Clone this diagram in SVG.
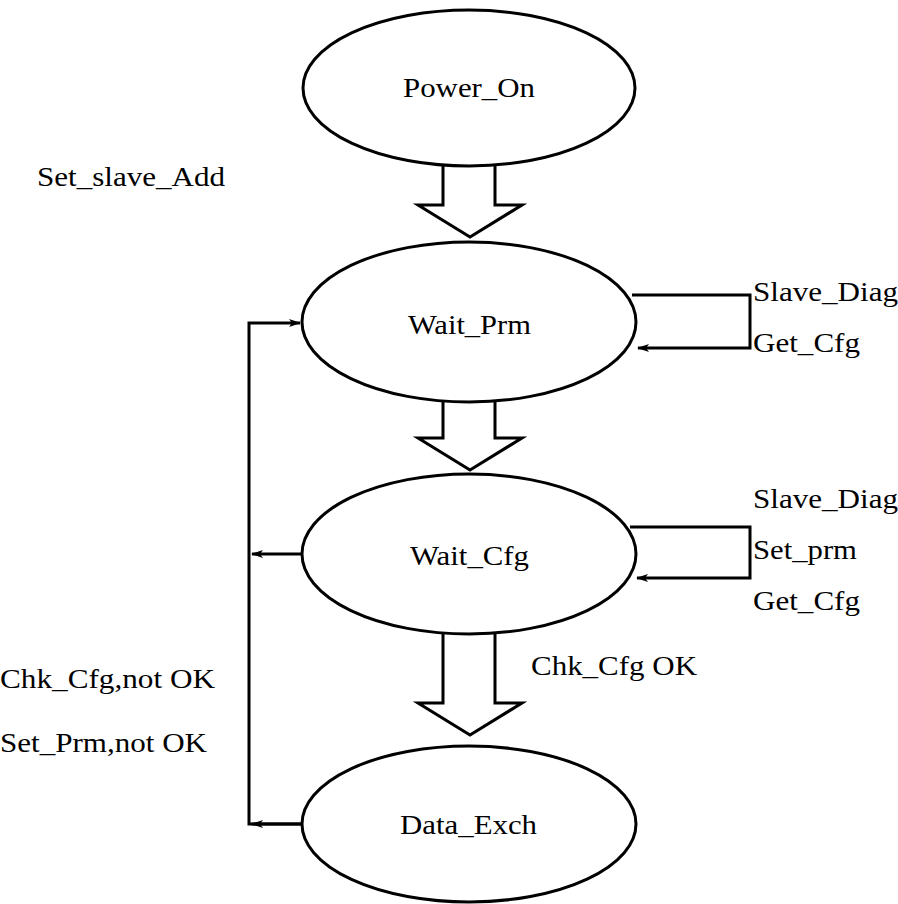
<svg xmlns="http://www.w3.org/2000/svg" width="898" height="904" viewBox="0 0 898 904">
<style>
.n{fill:#fff;stroke:#000;stroke-width:3}
.l{fill:none;stroke:#000;stroke-width:3}
.b{fill:#fff;stroke:#000;stroke-width:3;stroke-linejoin:miter}
text{font-family:"Liberation Serif","Times New Roman",serif;font-size:28px;fill:#000}
</style>
<defs>
<marker id="a" markerWidth="12" markerHeight="8" refX="11" refY="4" orient="auto" markerUnits="userSpaceOnUse">
<path d="M0,0 L12,4 L0,8 L3,4 Z" fill="#000"/>
</marker>
</defs>
<rect width="898" height="904" fill="#fff"/>
<g id="connectors">
<path class="b" d="M443,163 V205 H418 L470,237 L522,205 H495 V163"/>
<path class="b" d="M443,402 V438 H418 L470,470 L522,438 H495 V402"/>
<path class="b" d="M443,634 V703 H418 L470,735 L522,703 H495 V634"/>
<path class="l" d="M632,295 H750 V348 H638" marker-end="url(#a)"/>
<path class="l" d="M630,527 H750 V578 H637" marker-end="url(#a)"/>
<path class="l" d="M302,824 H249 V323 H300" marker-end="url(#a)"/>
<path class="l" d="M302,824 H252" marker-end="url(#a)"/>
<path class="l" d="M302,554 H252" marker-end="url(#a)"/>
<text x="37" y="186" textLength="188" lengthAdjust="spacingAndGlyphs">Set_slave_Add</text>
<text x="753" y="301" textLength="145" lengthAdjust="spacingAndGlyphs">Slave_Diag</text>
<text x="753" y="352" textLength="107" lengthAdjust="spacingAndGlyphs">Get_Cfg</text>
<text x="753" y="508" textLength="145" lengthAdjust="spacingAndGlyphs">Slave_Diag</text>
<text x="753" y="559" textLength="104" lengthAdjust="spacingAndGlyphs">Set_prm</text>
<text x="753" y="610" textLength="107" lengthAdjust="spacingAndGlyphs">Get_Cfg</text>
<text x="531" y="675" textLength="166" lengthAdjust="spacingAndGlyphs">Chk_Cfg OK</text>
<text x="0" y="688" textLength="215" lengthAdjust="spacingAndGlyphs">Chk_Cfg,not OK</text>
<text x="0" y="752" textLength="207" lengthAdjust="spacingAndGlyphs">Set_Prm,not OK</text>
</g>
<g id="power_on"><ellipse class="n" cx="469" cy="88" rx="166" ry="78"/><text x="403" y="97" textLength="132" lengthAdjust="spacingAndGlyphs">Power_On</text></g>
<g id="wait_prm"><ellipse class="n" cx="469" cy="322" rx="167" ry="80"/><text x="408" y="334" textLength="123" lengthAdjust="spacingAndGlyphs">Wait_Prm</text></g>
<g id="wait_cfg"><ellipse class="n" cx="469" cy="554" rx="167" ry="80"/><text x="410" y="565" textLength="119" lengthAdjust="spacingAndGlyphs">Wait_Cfg</text></g>
<g id="data_exch"><ellipse class="n" cx="469" cy="824" rx="167" ry="78"/><text x="400" y="834" textLength="137" lengthAdjust="spacingAndGlyphs">Data_Exch</text></g>
</svg>
